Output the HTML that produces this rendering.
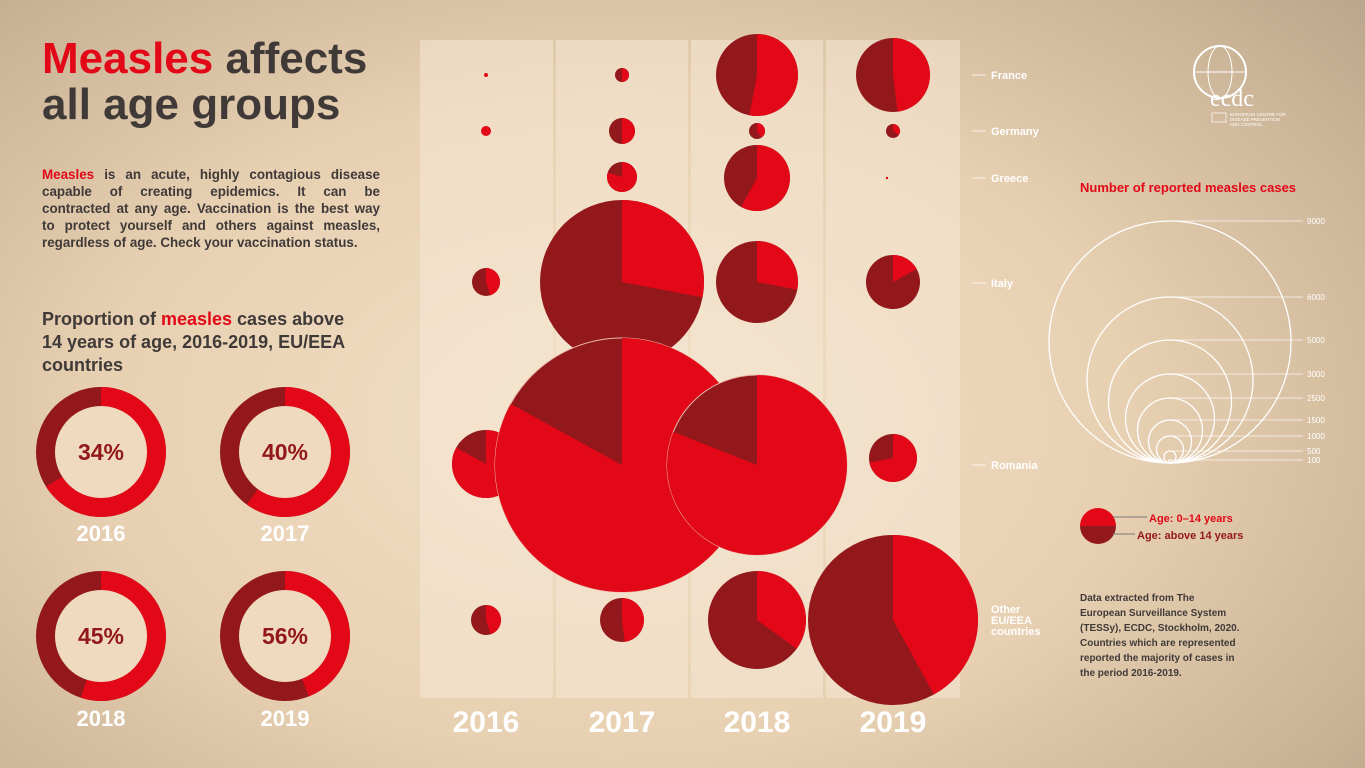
<!DOCTYPE html>
<html><head><meta charset="utf-8"><style>
body{margin:0;width:1365px;height:768px;overflow:hidden;font-family:"Liberation Sans",sans-serif;
background:radial-gradient(ellipse 75% 85% at 45% 55%,#f3e1c8 0%,#e8d0b2 50%,#c9b295 85%,#b8a48c 100%);position:relative}
.a{position:absolute}
h1{position:absolute;left:42px;top:36px;margin:0;font-size:44px;line-height:46px;font-weight:bold;color:#3f3a38}
.r{color:#e20817}
div.i{position:absolute;left:42px;top:166px;width:338px;font-size:13.4px;line-height:17px;color:#3f3a38;font-weight:bold}
div.i span.l{display:block;text-align:justify;text-align-last:justify;height:17px}
div.i span.e{display:block;height:17px}
h2{position:absolute;left:42px;top:308px;margin:0;font-size:18px;line-height:23px;color:#3f3a38;font-weight:bold;width:340px}
</style></head><body>
<h1><span class="r">Measles</span> affects<br>all age groups</h1>
<div class="i"><span class="l"><span class="r">Measles</span> is an acute, highly contagious disease</span><span class="l">capable of creating epidemics. It can be</span><span class="l">contracted at any age. Vaccination is the best way</span><span class="l">to protect yourself and others against measles,</span><span class="e">regardless of age. Check your vaccination status.</span></div>
<h2>Proportion of <span class="r">measles</span> cases above<br>14 years of age, 2016-2019, EU/EEA<br>countries</h2>
<svg class="a" style="left:0;top:0" width="1365" height="768" id="s"></svg>
<script>
var s=document.getElementById('s'),h='';
h+='<g fill="#f7e8d6" opacity="0.55"><rect x="420" y="40" width="133" height="658"/><rect x="556" y="40" width="132" height="658"/><rect x="691" y="40" width="132" height="658"/><rect x="826" y="40" width="134" height="658"/></g>';
function pie(cx,cy,r,f,st){var R='#e20817',D='#93181c';
 var o=st?' stroke="#e9b7a8" stroke-width="1"':'';
 if(f>=0.999)return '<circle cx="'+cx+'" cy="'+cy+'" r="'+r+'" fill="'+R+'"/>';
 var a=f*2*Math.PI,x=cx+r*Math.sin(a),y=cy-r*Math.cos(a);
 return '<circle cx="'+cx+'" cy="'+cy+'" r="'+r+'" fill="'+D+'"'+o+'/><path d="M'+cx+','+cy+'L'+cx+','+(cy-r)+'A'+r+','+r+' 0 '+(f>0.5?1:0)+' 1 '+x+','+y+'Z" fill="'+R+'"/>';}
var P=[[486,75,2,1],[622,75,7,.5],[757,75,41,.53],[893,75,37,.48],
[486,131,5,1],[622,131,13,.5],[757,131,8,.4],[893,131,7,.35],
[622,177,15,.8],[757,178,33,.58],[887,178,1.2,1],
[486,282,14,.45],[622,282,82,.28],[757,282,41,.28],[893,282,27,.17],
[486,464,34,.83],[893,458,24,.72],[622,465,127,.83,1],[757,465,90,.81,1],
[486,620,15,.45],[622,620,22,.48],[757,620,49,.35],[893,620,85,.42]];
P.forEach(function(p){h+=pie(p[0],p[1],p[2],p[3],p[4]);});
[['France',75],['Germany',131],['Greece',178],['Italy',283],['Romania',465]].forEach(function(c){
 h+='<line x1="972" y1="'+c[1]+'" x2="986" y2="'+c[1]+'" stroke="#fff" opacity=".8"/><text x="991" y="'+(c[1]+4)+'" font-size="11" font-weight="bold" fill="#fff">'+c[0]+'</text>';});
h+='<text font-size="11" font-weight="bold" fill="#fff"><tspan x="991" y="613">Other</tspan><tspan x="991" y="624">EU/EEA</tspan><tspan x="991" y="635">countries</tspan></text>';
['2016','2017','2018','2019'].forEach(function(y,i){h+='<text x="'+[486,622,757,893][i]+'" y="732" text-anchor="middle" font-size="30" font-weight="bold" fill="#fff">'+y+'</text>';});
[[101,452,.34,'34%','2016',533],[285,452,.40,'40%','2017',533],[101,636,.45,'45%','2018',718],[285,636,.56,'56%','2019',718]].forEach(function(d){
 h+=pie(d[0],d[1],65,1-d[2])+'<circle cx="'+d[0]+'" cy="'+d[1]+'" r="46" fill="#efd9bf"/>';
 h+='<text x="'+d[0]+'" y="'+(d[1]+8)+'" text-anchor="middle" font-size="23" font-weight="bold" fill="#93181c">'+d[3]+'</text>';
 h+='<text x="'+d[0]+'" y="'+(d[5]+8)+'" text-anchor="middle" font-size="22" font-weight="bold" fill="#fff">'+d[4]+'</text>';});
h+='<text x="1080" y="192" font-size="13" font-weight="bold" fill="#e20817">Number of reported measles cases</text>';
[[9000,121],[6000,83],[5000,61.5],[3000,44.5],[2500,32.5],[1500,21.5],[1000,13.5],[500,6],[100,1.5]].forEach(function(c){
 var top=463-2*c[1];
 h+='<circle cx="1170" cy="'+(463-c[1])+'" r="'+c[1]+'" fill="none" stroke="#fff" stroke-width="1.3"/>';
 h+='<line x1="1170" y1="'+top+'" x2="1303" y2="'+top+'" stroke="#fff" stroke-width=".8" opacity=".85"/>';
 h+='<text x="1307" y="'+(top+3)+'" font-size="8" fill="#fff">'+c[0]+'</text>';});
h+='<path d="M1080,526A18,18 0 0 1 1116,526Z" fill="#e20817"/><path d="M1080,526A18,18 0 0 0 1116,526Z" fill="#93181c"/>';
h+='<line x1="1113" y1="517" x2="1147" y2="517" stroke="#777"/><line x1="1113" y1="534" x2="1135" y2="534" stroke="#777"/>';
h+='<text x="1149" y="522" font-size="11" font-weight="bold" fill="#e20817">Age: 0–14 years</text>';
h+='<text x="1137" y="539" font-size="11" font-weight="bold" fill="#93181c">Age: above 14 years</text>';
h+='<text font-size="10" font-weight="bold" fill="#3f3a38"><tspan x="1080" y="601">Data extracted from The</tspan><tspan x="1080" y="616">European Surveillance System</tspan><tspan x="1080" y="631">(TESSy), ECDC, Stockholm, 2020.</tspan><tspan x="1080" y="646">Countries which are represented</tspan><tspan x="1080" y="661">reported the majority of cases in</tspan><tspan x="1080" y="676">the period 2016-2019.</tspan></text>';
h+='<circle cx="1220" cy="72" r="26" fill="none" stroke="#fff" stroke-width="2"/><ellipse cx="1220" cy="72" rx="12" ry="26" fill="none" stroke="#fff"/><line x1="1194" y1="72" x2="1246" y2="72" stroke="#fff"/>';
h+='<text x="1210" y="106" font-size="24" fill="#fff" font-family="Liberation Serif,serif">ecdc</text>';
h+='<rect x="1212" y="113" width="14" height="9" fill="none" stroke="#fff" stroke-width=".7"/><text font-size="4.5" fill="#fff"><tspan x="1230" y="116">EUROPEAN CENTRE FOR</tspan><tspan x="1230" y="121">DISEASE PREVENTION</tspan><tspan x="1230" y="126">AND CONTROL</tspan></text>';
s.innerHTML=h;
</script>
</body></html>
